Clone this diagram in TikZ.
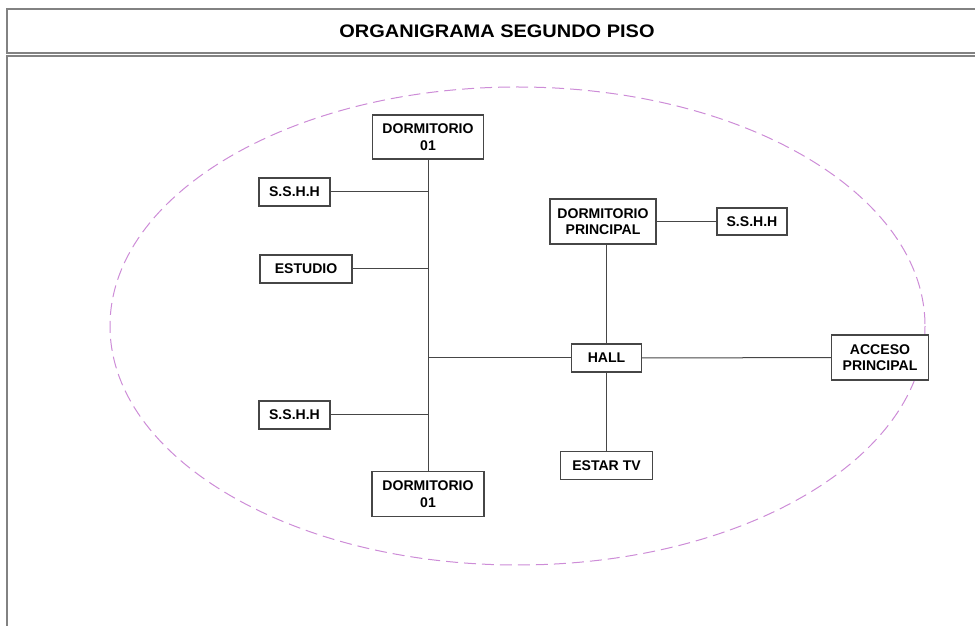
\documentclass[tikz,border=0pt]{standalone}
\usepackage{fontspec}
\setmainfont{Liberation Sans}
\usepackage{xcolor}
\usetikzlibrary{positioning,calc}
\definecolor{orgframe}{RGB}{130,130,130}
\definecolor{orgline}{RGB}{70,70,70}
\definecolor{orgviolet}{RGB}{205,140,215}

\begin{document}
\begin{tikzpicture}[x=0.03cm, y=-0.03cm, every node/.style={font=\fontsize{12}{14}\selectfont\bfseries}]
  \tikzset{
    room/.style={draw=orgline, line width=0.4mm, fill=white, align=center, inner sep=1pt},
    link/.style={draw=orgline, line width=0.3mm}
  }
  \useasboundingbox (0,0) rectangle (975,626);

  % frame and title
  \draw[orgframe, line width=0.45mm] (7,9) rectangle (995,53);
  \draw[orgframe, line width=0.45mm] (7,56) rectangle (995,650);
  \node[font=\fontsize{15.5}{18}\selectfont\bfseries] (T) at (497,31) {\scalebox{1.1}[1]{ORGANIGRAMA SEGUNDO PISO}};

  % zone
  \draw[orgviolet, line width=0.3mm, dash pattern=on 3.6mm off 1.8mm] (517.5,326) ellipse (407.5 and 239);

  % rooms
  \node[room, minimum width=3.33cm, minimum height=1.32cm] (D1) at (428,137) {DORMITORIO\\01};
  \node[room, minimum width=2.13cm, minimum height=0.84cm] (S1) at (294.5,192) {S.S.H.H};
  \node[room, minimum width=2.76cm, minimum height=0.84cm] (E) at (306,269) {ESTUDIO};
  \node[room, minimum width=2.13cm, minimum height=0.84cm] (S2) at (294.5,415) {S.S.H.H};
  \node[room, minimum width=3.36cm, minimum height=1.35cm] (D2) at (428,494) {DORMITORIO\\01};
  \node[room, minimum width=3.18cm, minimum height=1.35cm] (DP) at (603,221.5) {DORMITORIO\\PRINCIPAL};
  \node[room, minimum width=2.10cm, minimum height=0.81cm] (S3) at (752,221.5) {S.S.H.H};
  \node[room, minimum width=2.10cm, minimum height=0.84cm] (H) at (606.5,358) {HALL};
  \node[room, minimum width=2.76cm, minimum height=0.84cm] (ET) at (606.5,465.5) {ESTAR TV};
  \node[room, minimum width=2.91cm, minimum height=1.35cm] (A) at (880,357.5) {ACCESO\\PRINCIPAL};

  % connections
  \draw[link] (D1.south) -- (D2.north);
  \foreach \n in {S1,E,S2,H} {
    \draw[link] (\n) -- (\n -| D1);
  }
  \draw[link] (H) -- (H |- DP.south);
  \draw[link] (H) -- (ET);
  \draw[link] (H) -- (A);
  \draw[link] (DP.east) -- (S3.west);
\end{tikzpicture}
\end{document}
